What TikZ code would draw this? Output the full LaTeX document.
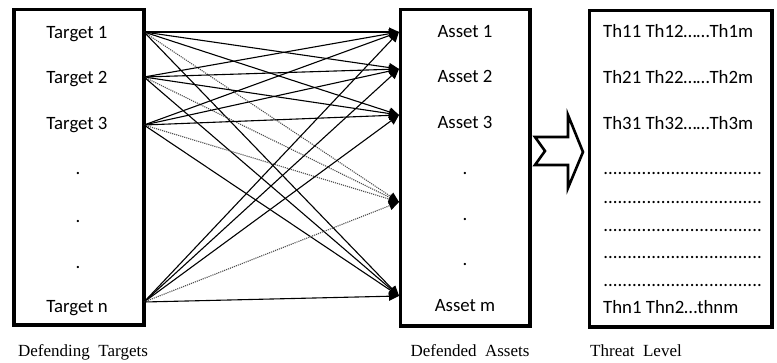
\documentclass[tikz,border=0pt]{standalone}
\usepackage{fontspec}
\setmainfont{Liberation Serif}
\newfontfamily\boxfont{Carlito}
\usetikzlibrary{arrows.meta}
\newcommand\dotrow{\makebox[159pt]{\xleaders\hbox{.}\hfill}}

\begin{document}
\begin{tikzpicture}[x=1pt,y=-1pt,
  >={Triangle[length=10pt,width=9pt]},
  frame/.style={line width=3.8pt},
  link/.style={line width=1.1pt,->},
  weak/.style={line width=1.1pt,densely dotted,black!70,-{Triangle[length=10pt,width=9pt,black]}},
  entry/.style={font=\boxfont\fontsize{18.8}{22}\selectfont,inner sep=0pt,anchor=base},
  caption/.style={font=\fontsize{17}{20}\selectfont,inner sep=0pt,anchor=base}]
  \useasboundingbox (0,0) rectangle (777,362);

  % Defending targets
  \draw [frame] (14,9.5) rectangle (143.7,325);
  \node [entry] (target1) at (77,38) {Target 1};
  \node [entry] (target2) at (77,83.5) {Target 2};
  \node [entry] (target3) at (77,129) {Target 3};
  \node [entry] (tdot1) at (78,174.5) {.};
  \node [entry] (tdot2) at (78,222.5) {.};
  \node [entry] (tdot3) at (78,268.5) {.};
  \node [entry] (targetn) at (77,312.5) {Target n};
  \node [caption] (captarget) at (83,356) {Defending\ \ Targets};

  % Defended assets
  \draw [frame] (400.5,9.5) rectangle (530,326);
  \node [entry] (asset1) at (465,37.5) {Asset 1};
  \node [entry] (asset2) at (465,82.5) {Asset 2};
  \node [entry] (asset3) at (465,128) {Asset 3};
  \node [entry] (adot1) at (465,174.5) {.};
  \node [entry] (adot2) at (465,220.5) {.};
  \node [entry] (adot3) at (465,265.5) {.};
  \node [entry] (assetm) at (465,311.5) {Asset m};
  \node [caption] (capasset) at (470,356) {Defended\ \ Assets};

  % Threat level
  \draw [frame] (589.5,10.5) rectangle (772,327);
  \node [entry,anchor=base west] (th1) at (603,37.5) {Th11 Th12……Th1m};
  \node [entry,anchor=base west] (th2) at (603,83.5) {Th21 Th22……Th2m};
  \node [entry,anchor=base west] (th3) at (603,129.5) {Th31 Th32……Th3m};
  \node [entry,anchor=base west] (row1) at (603,174.5) {\dotrow};
  \node [entry,anchor=base west] (row2) at (603,203.5) {\dotrow};
  \node [entry,anchor=base west] (row3) at (603,231.5) {\dotrow};
  \node [entry,anchor=base west] (row4) at (603,258.5) {\dotrow};
  \node [entry,anchor=base west] (row5) at (603,286.5) {\dotrow};
  \node [entry,anchor=base west] (thn) at (603,313.5) {Thn1 Thn2…thnm};
  \node [caption] (capthreat) at (636,356) {Threat\ \ Level};

  % Block arrow
  \draw [line width=2.6pt,line join=miter] (535,137) -- (568,137) -- (568,115) -- (583,152)
    -- (568,188) -- (568,165) -- (535,165) -- (545,151) -- cycle;

  % Ports
  \coordinate (t1) at (144,32);
  \coordinate (t2) at (144,77);
  \coordinate (t3) at (144,125);
  \coordinate (tn) at (144,302);
  \coordinate (a1) at (399,32);
  \coordinate (a2) at (399,69);
  \coordinate (a3) at (399,115);
  \coordinate (a4) at (399,202);
  \coordinate (am) at (399,296);

  % Links from target 1
  \draw [link] (t1) -- (a1);
  \draw [link] (t1) -- (a2);
  \draw [link] (t1) -- (a3);
  \draw [weak] (t1) -- (a4);
  \draw [link] (t1) -- (am);

  % Links from target 2
  \draw [link] (t2) -- (a1);
  \draw [link] (t2) -- (a2);
  \draw [link] (t2) -- (a3);
  \draw [weak] (t2) -- (a4);
  \draw [link] (t2) -- (am);

  % Links from target 3
  \draw [link] (t3) -- (a1);
  \draw [link] (t3) -- (a2);
  \draw [link] (t3) -- (a3);
  \draw [weak] (t3) -- (a4);
  \draw [link] (t3) -- (am);

  % Links from target n
  \draw [link] (tn) -- (a1);
  \draw [link] (tn) -- (a2);
  \draw [link] (tn) -- (a3);
  \draw [weak] (tn) -- (a4);
  \draw [link] (tn) -- (am);

\end{tikzpicture}
\end{document}
